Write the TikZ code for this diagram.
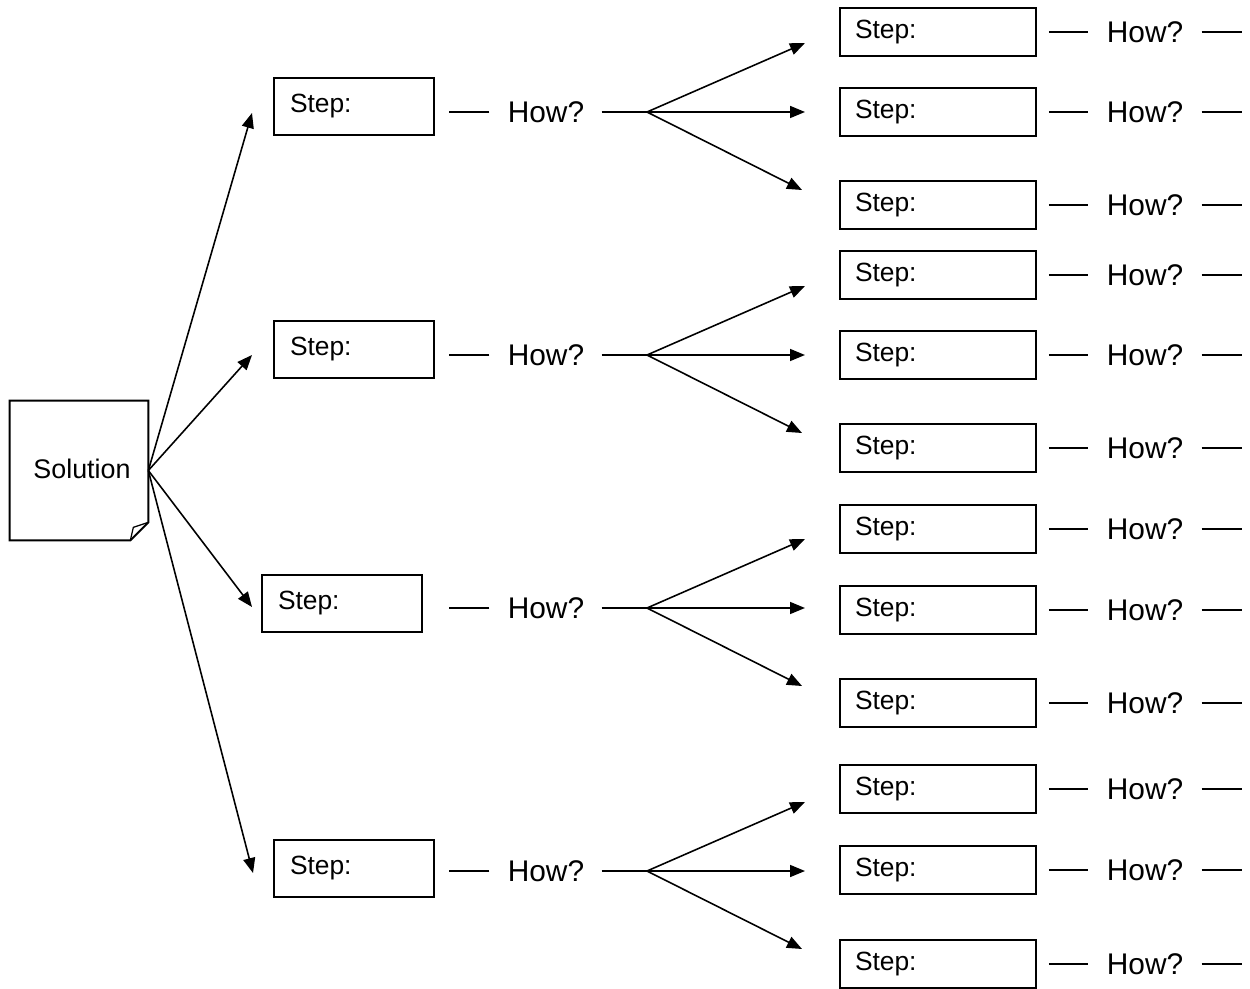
\documentclass[tikz,border=0pt]{standalone}
\usepackage{fontspec}
\setmainfont{Liberation Sans}
\usetikzlibrary{arrows.meta}

\tikzset{
  stepbox/.style={draw, line width=1.1pt, align=left, font=\fontsize{15}{18}\selectfont},
  leftbox/.style={stepbox, minimum height=1.14cm, text width=2.56cm, inner xsep=0.32cm},
  rightbox/.style={stepbox, minimum height=0.96cm, text width=3.32cm, inner xsep=0.3cm},
  how/.style={inner sep=0pt, font=\fontsize{17}{20}\selectfont},
  link/.style={line width=1pt},
  arr/.style={line width=0.9pt, -{Triangle[length=0.3cm,width=0.24cm]}},
}

\begin{document}
\begin{tikzpicture}[x=0.02cm, y=-0.02cm]
      \fill[white] (0,0) rectangle (1250,989);
      \useasboundingbox (0,0) rectangle (1250,989);
      % solution sheet
      \node (sol) [minimum width=2.76cm, minimum height=2.78cm, inner sep=0pt] at (79,470.5) {};
      \node[font=\fontsize{15.3}{18}\selectfont] (soltext) at (82,469) {Solution};
      \draw[line width=1.1pt] (sol.north west) -- (sol.north east) -- ([yshift=0.36cm]sol.south east) -- ([xshift=-0.36cm]sol.south east) -- (sol.south west) -- cycle;
      \draw[line width=0.7pt] ([xshift=-0.36cm]sol.south east) -- ([xshift=-0.3cm,yshift=0.26cm]sol.south east) -- ([yshift=0.36cm]sol.south east);
      % first steps
      \foreach \i/\x/\y/\h/\tx/\ty in {1/354/106.5/112/252/113, 2/354/349.5/355/252/355, 3/342/603.5/608/252/607, 4/354/868.5/871/253/873}{
        \node[leftbox] (b\i) at (\x,\y) {Step:};
        \node[how] (h\i) at (546,\h) {How?};
        \coordinate (k\i) at (647,\h);
        \coordinate (t\i) at (\tx,\ty);
        \draw[arr] (sol.east) -- (t\i);
        \draw[link] ([xshift=-0.36cm]h\i.west) -- ([xshift=-1.16cm]h\i.west);
        \draw[link] ([xshift=0.34cm]h\i.east) -- (k\i);
        \draw[arr] (k\i) -- ++(158,-69);
        \draw[arr] (k\i) -- ++(158,0);
        \draw[arr] (k\i) -- ++(155,78);
      }
      % next steps
      \foreach \j/\y in {1/32, 2/112, 3/205, 4/275, 5/355, 6/448, 7/529, 8/610, 9/703, 10/789, 11/870, 12/964}{
        \node[rightbox] (r\j) at (938,\y) {Step:};
        \node[how] (q\j) at (1145,\y) {How?};
        \draw[link] ([xshift=0.24cm]r\j.east) -- ([xshift=-0.36cm]q\j.west);
        \draw[link] ([xshift=0.36cm]q\j.east) -- ++(40,0);
      }
    \end{tikzpicture}
\end{document}
